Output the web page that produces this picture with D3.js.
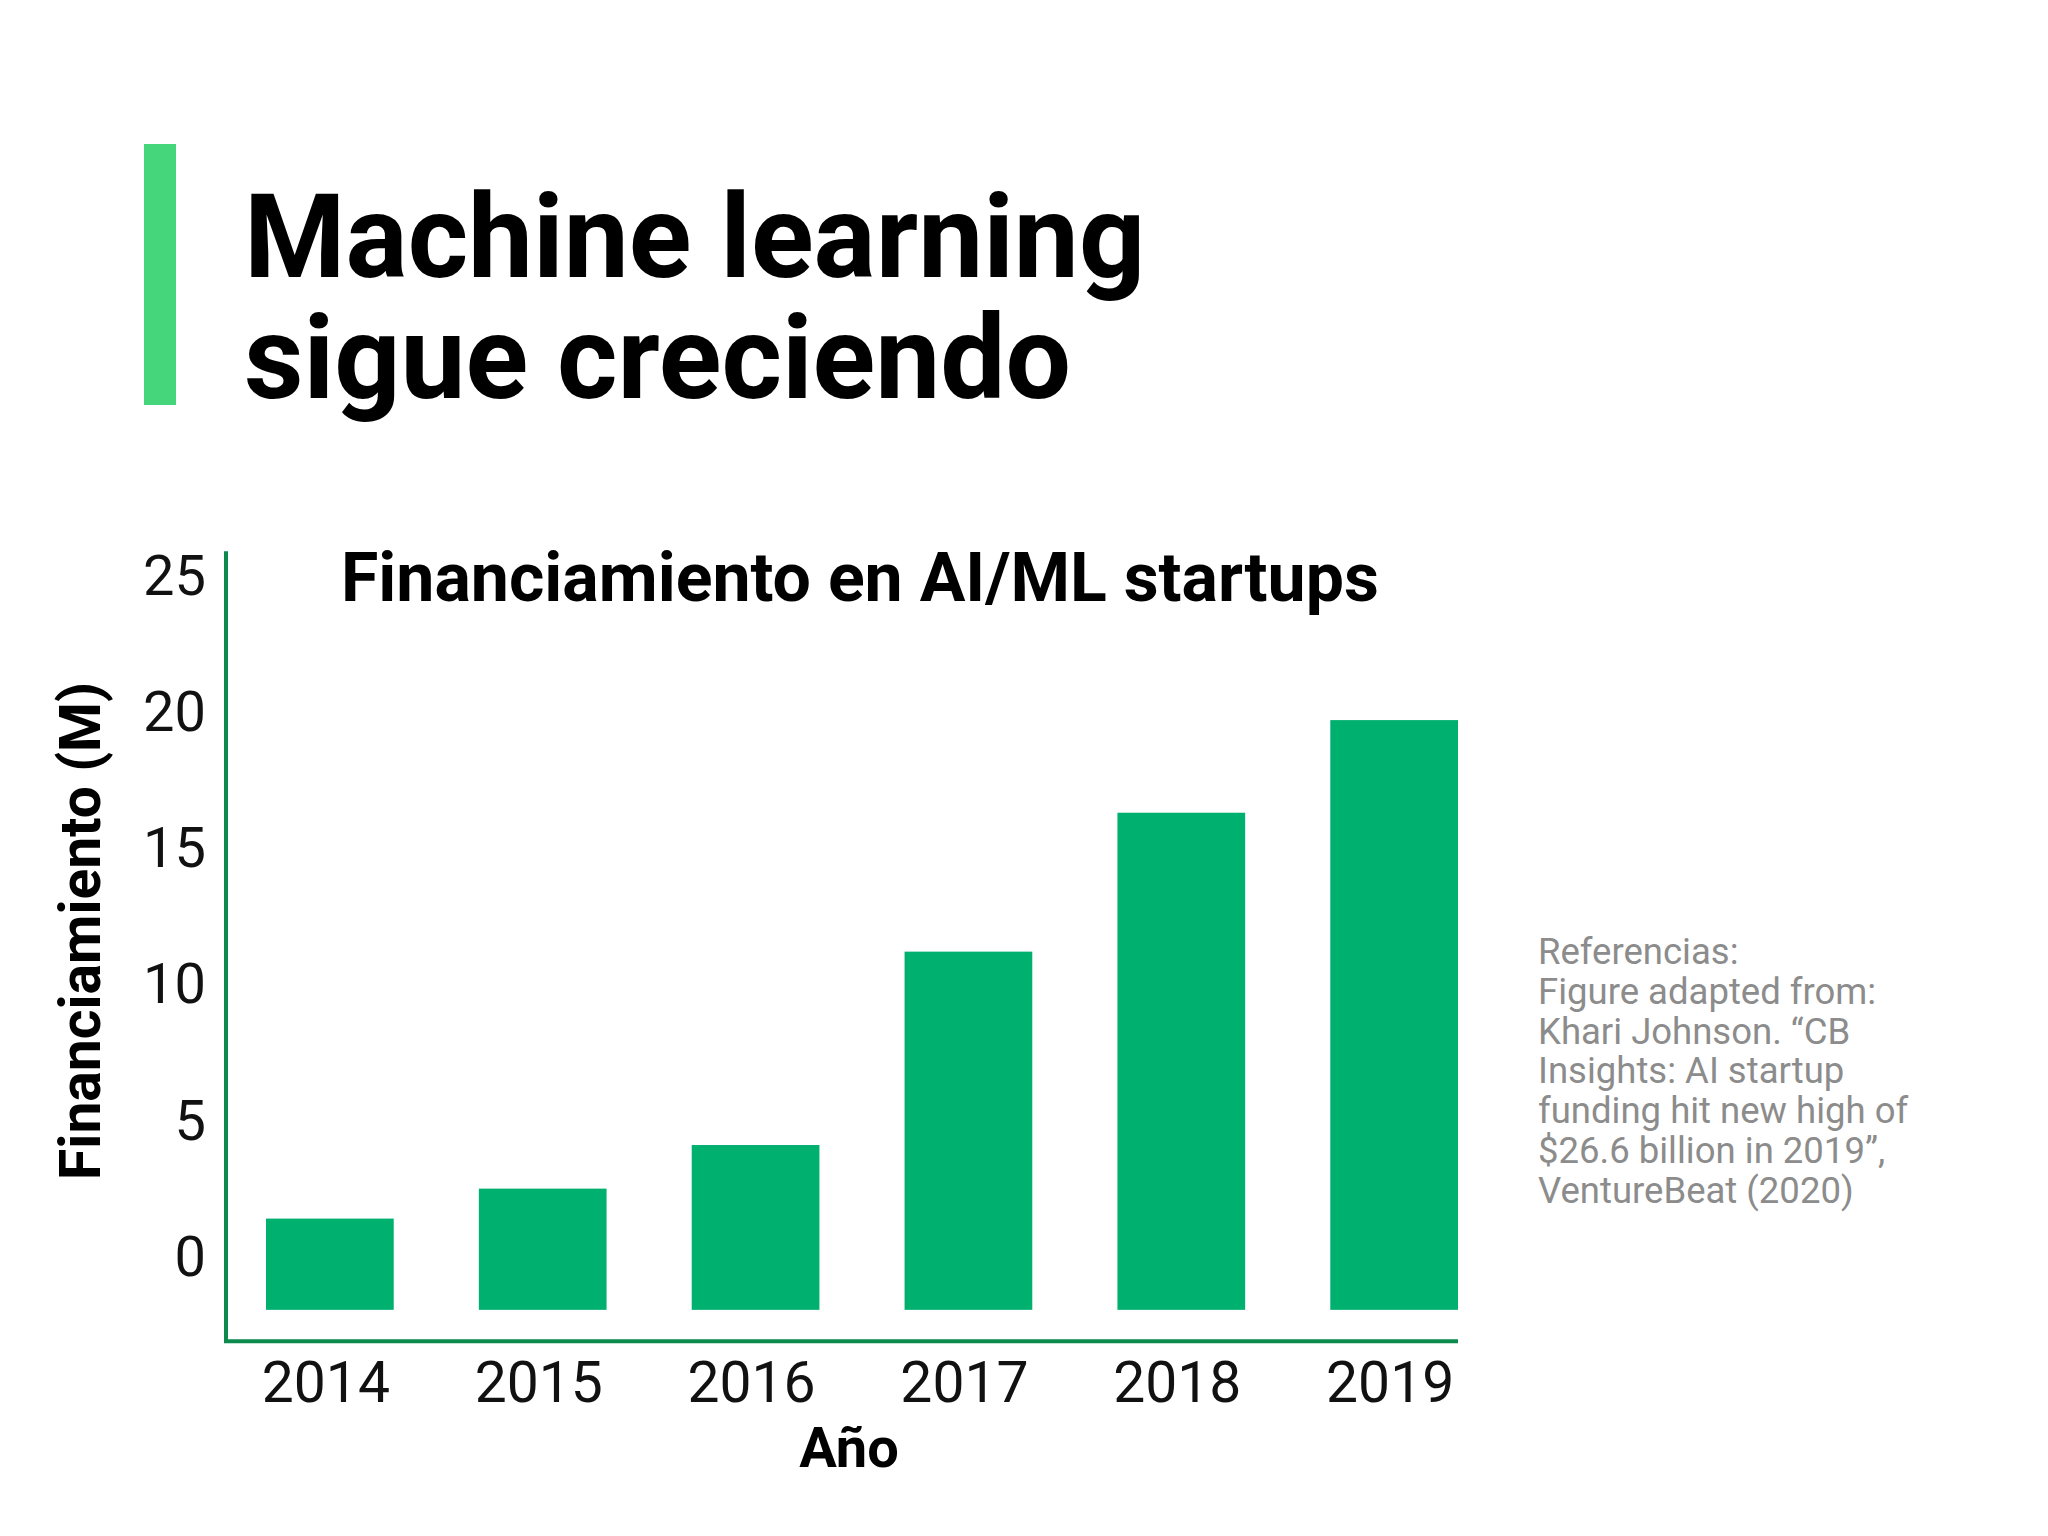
<!DOCTYPE html>
<html>
<head>
<meta charset="utf-8">
<script src="https://cdn.jsdelivr.net/npm/d3@7"></script>
<style>
  body { margin: 0; background: #fff; }
  svg { display: block; font-family: Roboto, "Noto Sans", sans-serif; }
</style>
</head>
<body>
<svg id="chart"></svg>
<script>
// data
const years = ['2014', '2015', '2016', '2017', '2018', '2019'];
const funding = [1.3, 2.4, 4.0, 11.1, 16.2, 19.6];
const yTicks = [0, 5, 10, 15, 20, 25];
const titleLines = ['Machine learning', 'sigue creciendo'];
const refLines = [
  'Referencias:',
  'Figure adapted from:',
  'Khari Johnson. \u201cCB',
  'Insights: AI startup',
  'funding hit new high of',
  '$26.6 billion in 2019\u201d,',
  'VentureBeat (2020)'
];

const width = 2048;
const height = 1536;
const barFloor = -2.05;   // bars sit a bit below the 0 label
const axisMin = -3.2;
const axisMax = 25.8;

const svg = d3.select('#chart')
  .attr('width', width)
  .attr('height', height);

svg.append('rect').attr('width', width).attr('height', height).attr('fill', '#fff');

// green accent + big title
svg.append('rect')
  .attr('x', 144).attr('y', 144)
  .attr('width', 32).attr('height', 261)
  .attr('fill', '#45d67c');

svg.append('text')
  .attr('font-size', 116)
  .attr('font-weight', 700)
  .attr('fill', '#000')
  .selectAll('tspan')
  .data(titleLines)
  .join('tspan')
  .attr('x', 244)
  .attr('y', (d, i) => 277 + i * 121)
  .text(d => d);

// scales
const x = d3.scaleBand()
  .domain(years)
  .range([266, 1458])
  .paddingInner(0.4)
  .paddingOuter(0);

const y = d3.scaleLinear()
  .domain([0, 25])
  .range([1254, 573]);

const axisX = 226;

// bars
svg.append('g')
  .selectAll('rect')
  .data(years)
  .join('rect')
  .attr('x', d => x(d))
  .attr('width', x.bandwidth())
  .attr('y', (d, i) => y(funding[i]))
  .attr('height', (d, i) => y(barFloor) - y(funding[i]))
  .attr('fill', '#00b06f');

// axis lines
svg.append('path')
  .attr('d', `M${axisX},${y(axisMax)}V${y(axisMin)}H${x.range()[1]}`)
  .attr('fill', 'none')
  .attr('stroke', '#0b8a4c')
  .attr('stroke-width', 4);

// y tick labels
const yAxis = svg.append('g')
  .attr('transform', `translate(${axisX},0)`)
  .call(d3.axisLeft(y).tickValues(yTicks).tickSize(0).tickPadding(20));
yAxis.select('.domain').remove();
yAxis.selectAll('text')
  .attr('font-family', 'Roboto, sans-serif')
  .attr('font-size', 56)
  .attr('dy', '0.38em')
  .attr('fill', '#111');

// x tick labels
const xAxis = svg.append('g')
  .attr('transform', `translate(0,${y(axisMin)})`)
  .call(d3.axisBottom(x).tickSize(0).tickPadding(20));
xAxis.select('.domain').remove();
xAxis.selectAll('text')
  .attr('font-family', 'Roboto, sans-serif')
  .attr('font-size', 57)
  .attr('dx', -4)
  .attr('fill', '#111');

// chart title
svg.append('text')
  .attr('x', 341)
  .attr('y', 601)
  .attr('font-size', 68)
  .attr('font-weight', 700)
  .text('Financiamiento en AI/ML startups');

// axis titles
svg.append('text')
  .attr('x', 849)
  .attr('y', 1467)
  .attr('text-anchor', 'middle')
  .attr('font-size', 56)
  .attr('font-weight', 700)
  .text('Año');

svg.append('text')
  .attr('transform', 'translate(100,931) rotate(-90)')
  .attr('text-anchor', 'middle')
  .attr('font-size', 57)
  .attr('font-weight', 700)
  .text('Financiamiento (M)');

// references note
svg.append('g')
  .selectAll('text')
  .data(refLines)
  .join('text')
  .attr('x', 1538)
  .attr('y', (d, i) => 964 + i * 39.8)
  .attr('font-size', 36.5)
  .attr('fill', '#8c8c8c')
  .text(d => d);
</script>
</body>
</html>
